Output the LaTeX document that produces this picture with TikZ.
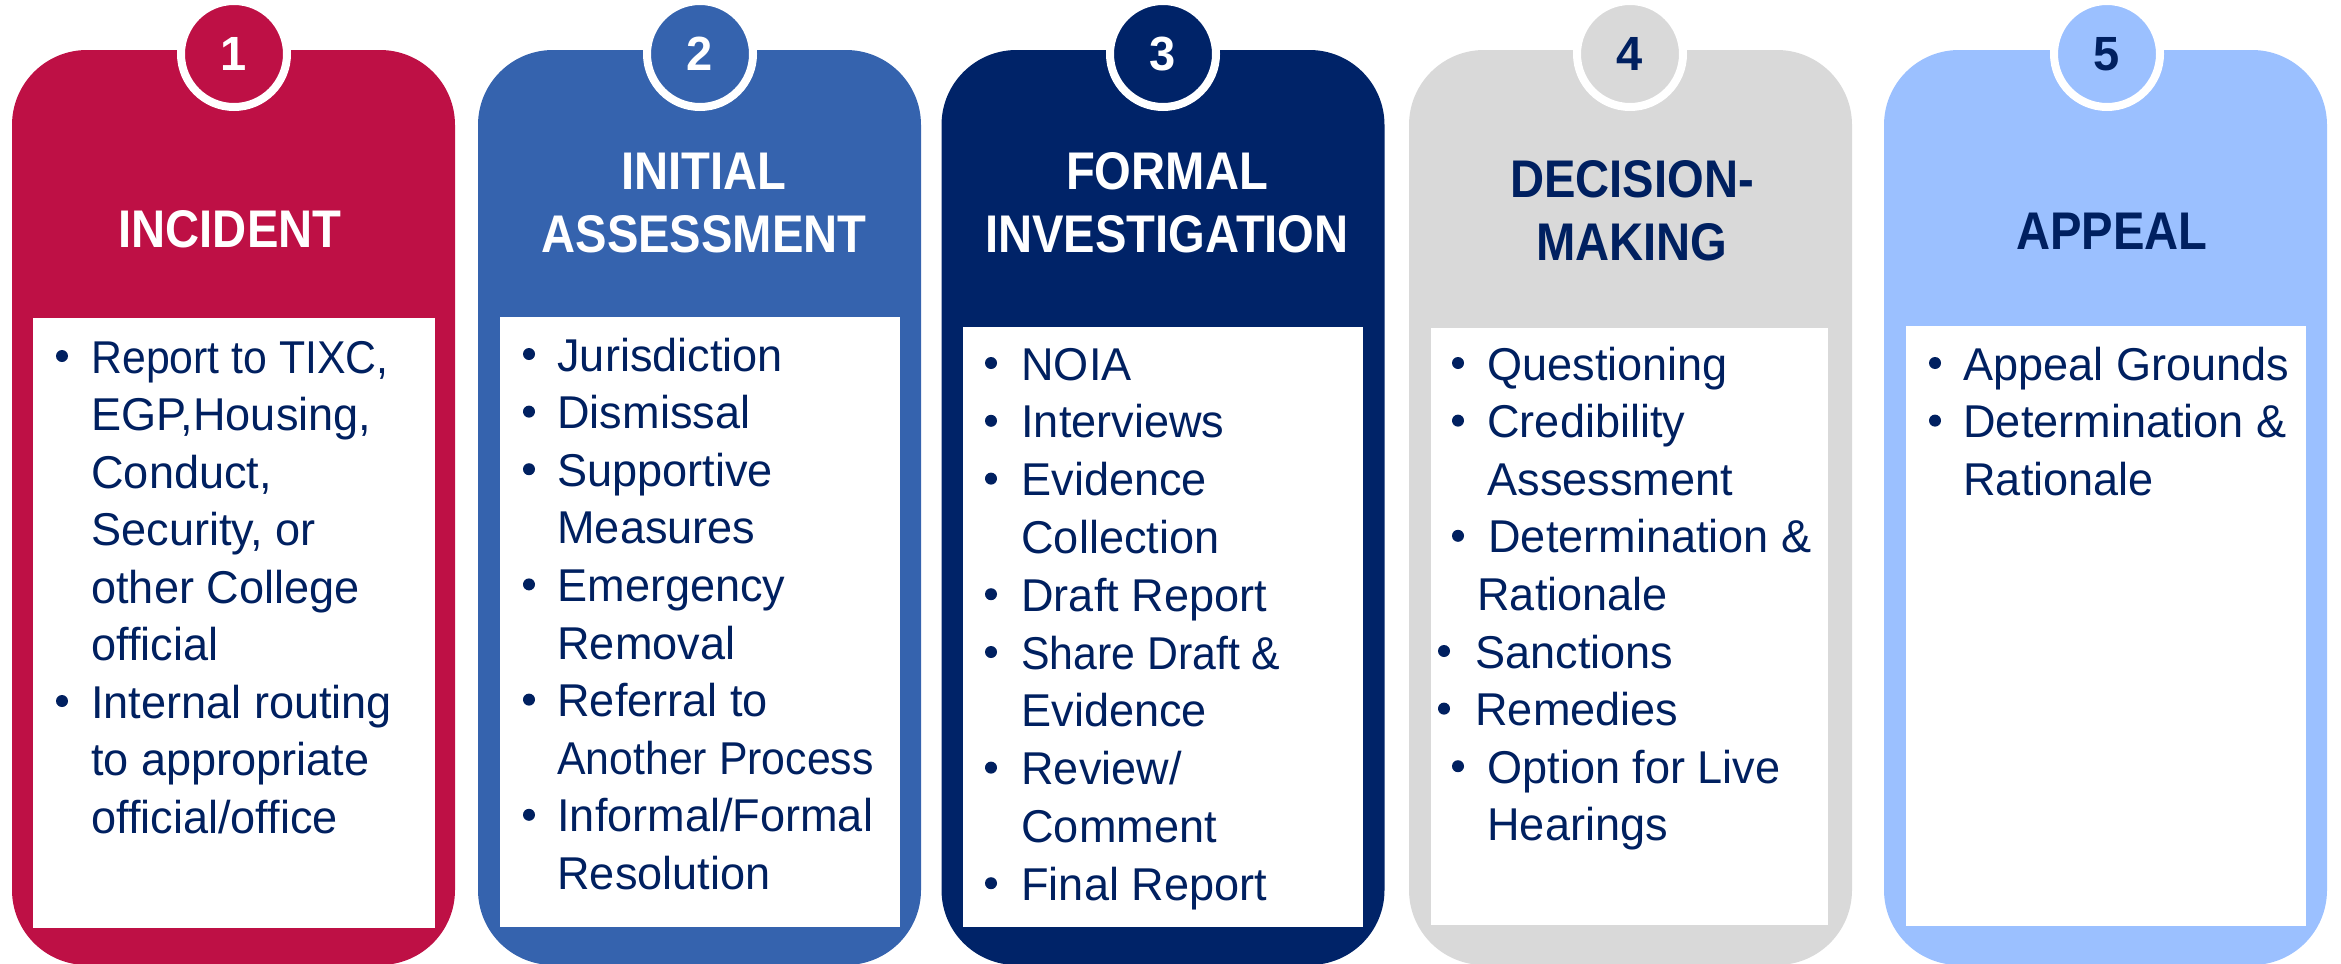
\documentclass[tikz,border=0pt]{standalone}
\usepackage{fontspec}
\setmainfont{Liberation Sans}[FakeStretch=0.98]
\newfontfamily\titlefont{Liberation Sans}[FakeStretch=0.89]
\newfontfamily\narrowfont{Liberation Sans}[FakeStretch=0.93]

\definecolor{crimson}{RGB}{190,16,69}
\definecolor{midblue}{RGB}{53,99,174}
\definecolor{deepnavy}{RGB}{0,35,104}
\definecolor{softgray}{RGB}{217,217,217}
\definecolor{skyblue}{RGB}{155,192,255}
\definecolor{inknavy}{RGB}{0,32,96}

\begin{document}
\begin{tikzpicture}[x=0.5pt,y=-0.5pt,
  panel/.style={rectangle, rounded corners=37.5pt, minimum width=221.5pt,
    minimum height=457.5pt, inner sep=0pt, outer sep=0pt, fill=#1},
  listbox/.style={rectangle, fill=white, inner sep=0pt, outer sep=0pt},
  badge/.style={circle, minimum size=53pt, inner sep=0pt, draw=white,
    line width=4pt, fill=#1},
  numtext/.style={anchor=base, inner sep=0pt, text=#1,
    font=\bfseries\fontsize{24}{28}\selectfont},
  heading/.style={anchor=base, inner sep=0pt, text=#1,
    font=\titlefont\bfseries\fontsize{26.5}{31.5}\selectfont},
  bodytext/.style={anchor=base west, inner sep=0pt, text=inknavy,
    font=\fontsize{23}{28}\selectfont},
  dot/.style={circle, fill=inknavy, minimum size=6pt, inner sep=0pt}]

\clip (0,0) rectangle (2341,964);

% ---------- panel frames ----------
\node[panel=crimson]   (panel1) at (233.5,507.5) {};
\node[panel=midblue]   (panel2) at (699.5,507.5) {};
\node[panel=deepnavy]  (panel3) at (1163,507.5) {};
\node[panel=softgray]  (panel4) at (1630.5,507.5) {};
\node[panel=skyblue]   (panel5) at (2105.5,507.5) {};

% ---------- white list areas ----------
\node[listbox, minimum width=201pt, minimum height=305pt]   (list1) at (234,623) {};
\node[listbox, minimum width=200pt, minimum height=305pt]   (list2) at (700,622) {};
\node[listbox, minimum width=200pt, minimum height=300pt]   (list3) at (1163,627) {};
\node[listbox, minimum width=198.5pt, minimum height=298.5pt] (list4) at (1629.5,626.5) {};
\node[listbox, minimum width=200pt, minimum height=300pt]   (list5) at (2106,626) {};

% ---------- step badges ----------
\node[badge=crimson]  (badge1) at (234,54) {};
\node[badge=midblue]  (badge2) at (700,54) {};
\node[badge=deepnavy] (badge3) at (1163,54) {};
\node[badge=softgray] (badge4) at (1630,54) {};
\node[badge=skyblue]  (badge5) at (2107,54) {};
\node[numtext=white]   (num1) at (234,70) {1};
\node[numtext=white]   (num2) at (700,70) {2};
\node[numtext=white]   (num3) at (1163,70) {3};
\node[numtext=inknavy] (num4) at (1630,70) {4};
\node[numtext=inknavy] (num5) at (2107,70) {5};

% ---------- headings ----------
\node[heading=white]   (head1)  at (230,247)  {INCIDENT};
\node[heading=white]   (head2a) at (704,189)  {INITIAL};
\node[heading=white]   (head2b) at (704,252)  {ASSESSMENT};
\node[heading=white]   (head3a) at (1167,189) {FORMAL};
\node[heading=white]   (head3b) at (1167,252) {INVESTIGATION};
\node[heading=inknavy] (head4a) at (1632,197) {DECISION-};
\node[heading=inknavy] (head4b) at (1632,260) {MAKING};
\node[heading=inknavy] (head5)  at (2112,249) {APPEAL};

% ---------- step 1 items ----------
\foreach \t [count=\i from 0] in {{\narrowfont Report to TIXC,},{EGP,Housing,},{Conduct,},
    {Security, or},{other College},official,{Internal routing},
    {to appropriate},{official/office}}
  \node[bodytext] (p1-l\i) at (91,{373+\i*57.5}) {\t};
\foreach \i in {0,6}
  \node[dot] (p1-b\i) at (62,{373+\i*57.5-17}) {};

% ---------- step 2 items ----------
\foreach \t [count=\i from 0] in {Jurisdiction,Dismissal,Supportive,Measures,
    Emergency,Removal,Referral to,{\narrowfont Another Process},Informal/Formal,Resolution}
  \node[bodytext] (p2-l\i) at (557,{371+\i*57.6}) {\t};
\foreach \i in {0,1,2,4,6,8}
  \node[dot] (p2-b\i) at (529,{371+\i*57.6-17}) {};

% ---------- step 3 items ----------
\foreach \t [count=\i from 0] in {NOIA,Interviews,Evidence,Collection,
    Draft Report,{\narrowfont Share Draft \&},Evidence,Review/,Comment,Final Report}
  \node[bodytext] (p3-l\i) at (1021,{380+\i*57.8}) {\t};
\foreach \i in {0,1,2,4,5,7,9}
  \node[dot] (p3-b\i) at (991,{380+\i*57.8-17}) {};

% ---------- step 4 items ----------
\foreach \x/\t [count=\i from 0] in {1487/Questioning,1487/Credibility,
    1487/Assessment,1488/Determination \&,1477/Rationale,1475/Sanctions,
    1475/Remedies,1487/Option for Live,1487/Hearings}
  \node[bodytext] (p4-l\i) at (\x,{380+\i*57.6}) {\t};
\foreach \x/\i in {1458/0,1458/1,1458/3,1444/5,1444/6,1458/7}
  \node[dot] (p4-b\i) at (\x,{380+\i*57.6-17}) {};

% ---------- step 5 items ----------
\foreach \t [count=\i from 0] in {Appeal Grounds,Determination \&,Rationale}
  \node[bodytext] (p5-l\i) at (1963,{380+\i*57.6}) {\t};
\foreach \i in {0,1}
  \node[dot] (p5-b\i) at (1935,{380+\i*57.6-17}) {};

\end{tikzpicture}
\end{document}
